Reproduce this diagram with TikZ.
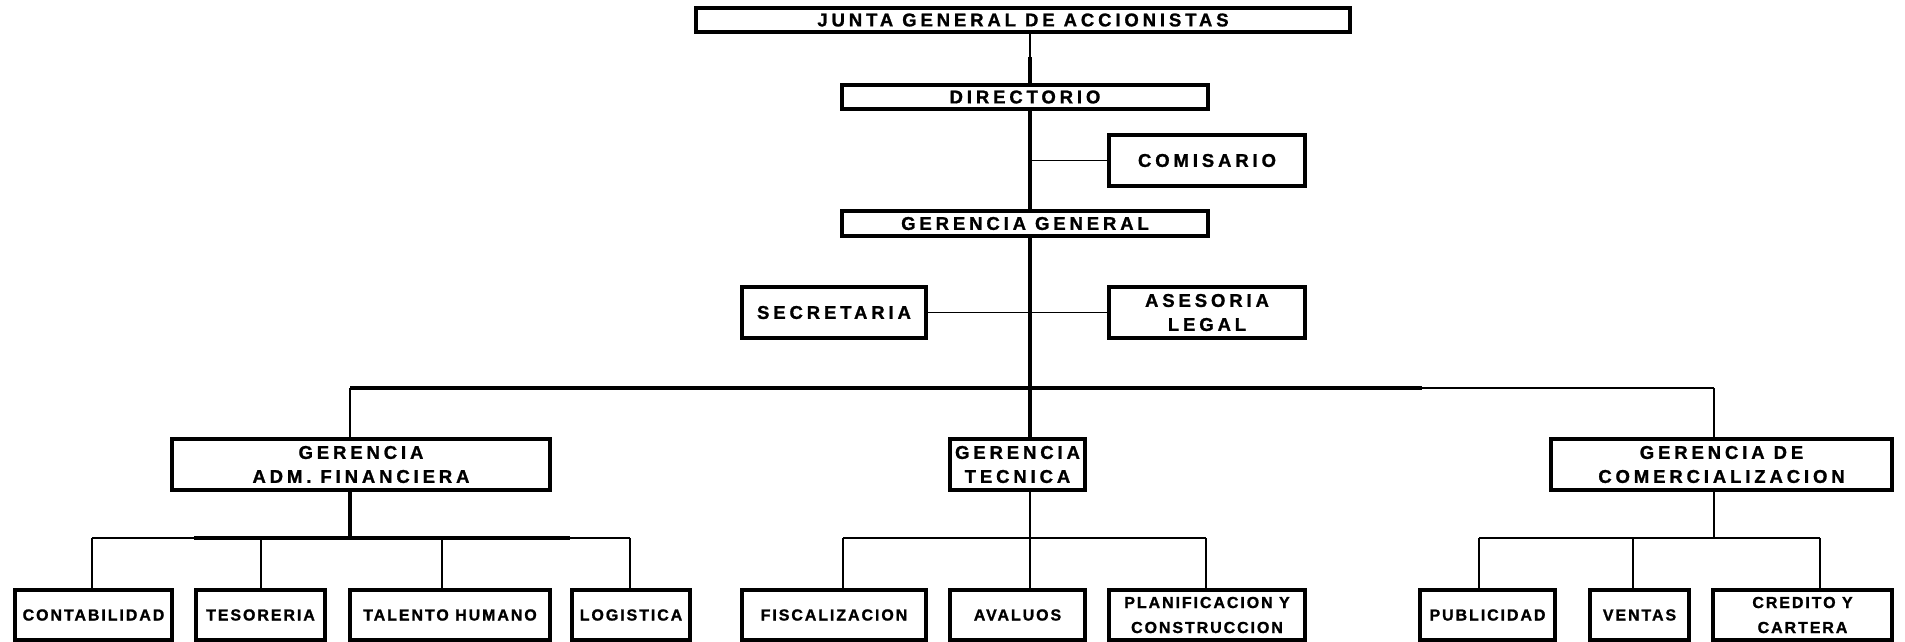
\documentclass[tikz,border=0pt]{standalone}
\usepackage{fontspec}
\setmainfont{Liberation Sans}
\newfontfamily\orgfont{Liberation Sans Bold}[LetterSpace=21,FakeBold=1.2]
\newfontfamily\subfont{Liberation Sans Bold}[LetterSpace=12,FakeBold=1.2]
\usetikzlibrary{calc}
\tikzset{
  orgbox/.style={draw, line width=3.2pt, inner sep=0pt, align=center,
    font=\orgfont\fontsize{18.5}{24}\selectfont},
  subbox/.style={orgbox, minimum height=50pt,
    font=\subfont\fontsize{16}{25}\selectfont},
  thinline/.style={line width=1.6pt},
  thickline/.style={line width=3.6pt}
}
\begin{document}
\begin{tikzpicture}[x=1pt,y=-1pt]
    \useasboundingbox (0,0) rectangle (1905,641);
    \node (junta) at (1023,20) [orgbox,minimum width=654pt,minimum height=24pt] {JUNTA GENERAL DE ACCIONISTAS};
    \node (directorio) at (1025,97) [orgbox,minimum width=366pt,minimum height=24pt] {DIRECTORIO};
    \node (comisario) at (1207,160.5) [orgbox,minimum width=196pt,minimum height=51pt] {COMISARIO};
    \node (gergen) at (1025,223.5) [orgbox,minimum width=366pt,minimum height=25pt] {GERENCIA GENERAL};
    \node (secret) at (834,312.5) [orgbox,minimum width=184pt,minimum height=51pt] {SECRETARIA};
    \node (asesor) at (1207,312.5) [orgbox,minimum width=196pt,minimum height=51pt] {ASESORIA\\LEGAL};
    \node (gadm) at (361,464.5) [orgbox,minimum width=378pt,minimum height=51pt] {GERENCIA\\ADM. FINANCIERA};
    \node (gtec) at (1017.5,464.5) [orgbox,minimum width=135pt,minimum height=51pt] {GERENCIA\\TECNICA};
    \node (gcom) at (1721.5,464.5) [orgbox,minimum width=341pt,minimum height=51pt] {GERENCIA DE\\COMERCIALIZACION};
    \node (contab) at (93.5,615) [subbox,minimum width=157pt] {CONTABILIDAD};
    \node (tesor) at (260.5,615) [subbox,minimum width=129pt] {TESORERIA};
    \node (talento) at (450,615) [subbox,minimum width=200pt] {TALENTO HUMANO};
    \node (logist) at (631,615) [subbox,minimum width=118pt] {LOGISTICA};
    \node (fiscal) at (834,615) [subbox,minimum width=184pt] {FISCALIZACION};
    \node (avaluo) at (1017.5,615) [subbox,minimum width=135pt] {AVALUOS};
    \node (planif) at (1207,615) [subbox,minimum width=196pt] {PLANIFICACION Y\\CONSTRUCCION};
    \node (public) at (1487.5,615) [subbox,minimum width=135pt] {PUBLICIDAD};
    \node (ventas) at (1639.5,615) [subbox,minimum width=99pt] {VENTAS};
    \node (credito) at (1802.5,615) [subbox,minimum width=179pt] {CREDITO Y\\CARTERA};
    \coordinate (axis) at (1030,0);
    \coordinate (busL) at (350,388);
    \coordinate (busmid) at (1422,388);
    \coordinate (busR) at (1714,388);
    \coordinate (sub) at (0,538);
    \draw[thinline] (axis |- junta.south) -- (axis |- directorio.north);
    \draw[thickline] (axis |- directorio.north) -- ++(0,-26);
    \draw[thickline] (axis |- directorio.south) -- (axis |- gergen.north);
    \draw[thickline] (axis |- gergen.south) -- (axis |- gtec.north);
    \draw[thinline] (comisario.west) -- (axis |- comisario.west);
    \draw[thinline] (secret.east) -- (asesor.west);
    \draw[thickline] (busL) -- (busmid);
    \draw[thinline] (busmid) -- (busR);
    \draw[thinline] (busL) -- (busL |- gadm.north);
    \draw[thinline] (busR) -- (busR |- gcom.north);
    \draw[thickline] (busL |- gadm.south) -- (busL |- sub);
    \draw[thinline] (axis |- gtec.south) -- (axis |- sub);
    \draw[thinline] (busR |- gcom.south) -- (busR |- sub);
    \foreach \n/\dx in {contab/-1.5,tesor/0.5,talento/-8,logist/-1,fiscal/9,
                        avaluo/12.5,planif/-1,public/-8.5,ventas/-6.5,credito/17.5}{
      \path ([xshift=\dx pt]\n.north) coordinate (\n-top);
      \draw[thinline] (\n-top) -- (\n-top |- sub);
    }
    \draw[thinline] (contab-top |- sub) -- (logist-top |- sub);
    \draw[thickline] (tesor.west |- sub) -- (logist.west |- sub);
    \draw[thinline] (fiscal-top |- sub) -- (planif-top |- sub);
    \draw[thinline] (public-top |- sub) -- (credito-top |- sub);
\end{tikzpicture}
\end{document}
